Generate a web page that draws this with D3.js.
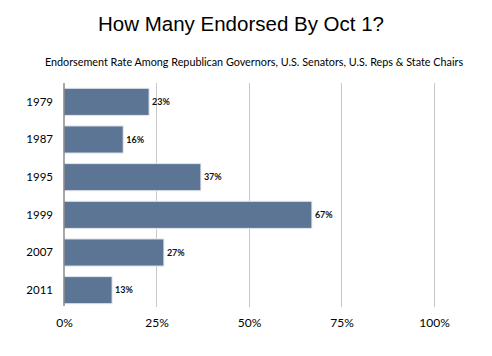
<!DOCTYPE html>
<html><head><meta charset="utf-8">
<script src="https://cdn.jsdelivr.net/npm/d3@7"></script>
<style>
html,body{margin:0;padding:0;background:#fff;}
svg{display:block;}
</style>
</head><body>
<svg id="chart" width="492" height="356"></svg>
<script>
const years = ["1979","1987","1995","1999","2007","2011"];
const rates = [23, 16, 37, 67, 27, 13];
const tickValues = [0, 25, 50, 75, 100];
const tickLabels = ["0%","25%","50%","75%","100%"];
const title = "How Many Endorsed By Oct 1?";
const subtitle = "Endorsement Rate Among Republican Governors, U.S. Senators, U.S. Reps & State Chairs";

const svg = d3.select("#chart");
const sans = "Lato, 'Open Sans', sans-serif";

const x = d3.scaleLinear().domain([0,100]).range([64,434]);
const y = d3.scaleBand().domain(years).range([83,309]).paddingInner(0.28).paddingOuter(0.14);

svg.append("text").attr("x",241).attr("y",31).attr("text-anchor","middle")
  .style("font-family","'Liberation Sans', Arial, sans-serif").style("font-size","20.5px").style("fill","#000")
  .text(title);
svg.append("text").attr("x",254).attr("y",66).attr("text-anchor","middle")
  .style("font-family",sans).style("font-size","10.8px").style("fill","#000")
  .text(subtitle);

// gridlines
svg.append("g").selectAll("line").data(tickValues.slice(1)).join("line")
  .attr("x1",d=>x(d)).attr("x2",d=>x(d)).attr("y1",83).attr("y2",307)
  .attr("stroke","#c8c8c8").attr("stroke-width",1).attr("shape-rendering","crispEdges");

// x axis labels
const xAxis = d3.axisBottom(x).tickValues(tickValues).tickFormat((d,i)=>tickLabels[i]).tickSize(0).tickPadding(0);
const gx = svg.append("g").attr("transform","translate(0,318)").call(xAxis);
gx.select(".domain").remove();
gx.selectAll("text").style("font-family",sans).style("font-size","12px").style("fill","#000").attr("dy","0.71em");

// bars
svg.append("g").selectAll("rect").data(rates).join("rect")
  .attr("x",x(0)).attr("y",(d,i)=>y(years[i]))
  .attr("width",d=>x(d)-x(0)).attr("height",y.bandwidth())
  .attr("fill","#5c7594").attr("stroke","#e4e8ee").attr("stroke-width",1);

// value labels
svg.append("g").selectAll("text").data(rates).join("text")
  .attr("x",d=>x(d)+3).attr("y",(d,i)=>y(years[i])+y.bandwidth()/2).attr("dy","0.35em")
  .style("font-family",sans).style("font-size","9px").style("font-weight","bold").style("fill","#111")
  .text(d=>d+"%");

// y axis
const yAxis = d3.axisLeft(y).tickSize(0).tickPadding(11);
const gy = svg.append("g").attr("transform","translate(64,0)").call(yAxis);
gy.select(".domain").remove();
gy.selectAll("text").style("font-family",sans).style("font-size","11.5px").style("fill","#000");
svg.append("line").attr("x1",64).attr("x2",64).attr("y1",83).attr("y2",306)
  .attr("stroke","#6e6e6e").attr("stroke-width",1.2);
</script>
</body></html>
